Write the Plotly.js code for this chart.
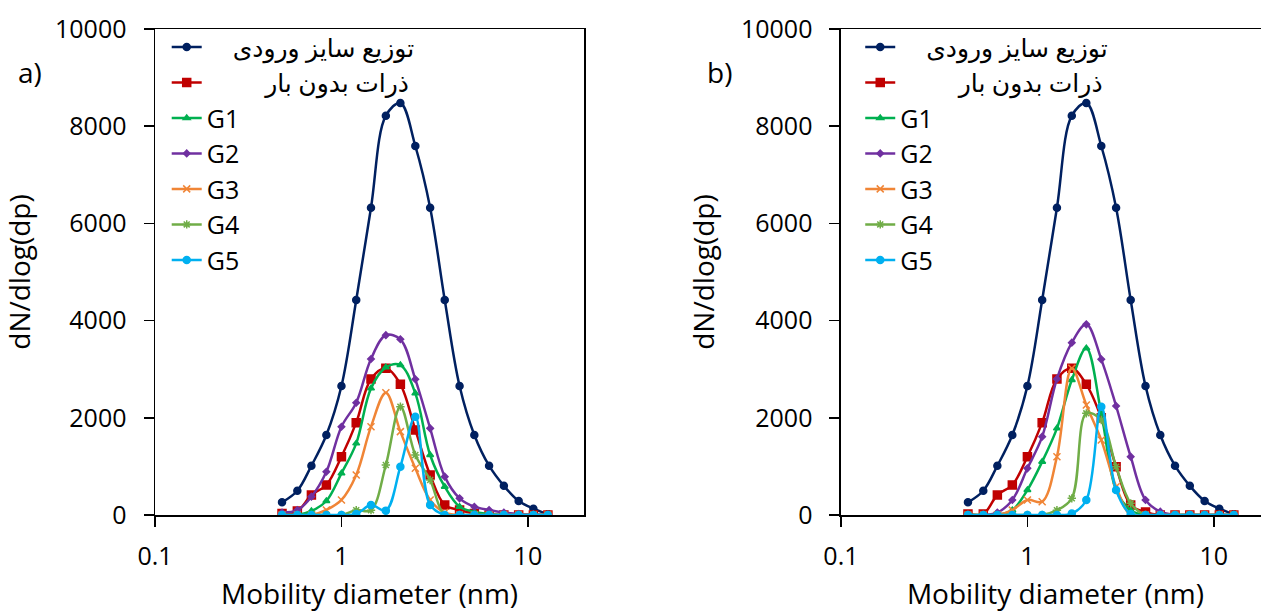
<!DOCTYPE html>
<html>
<head>
<meta charset="utf-8">
<script src="https://cdn.plot.ly/plotly-3.0.1.min.js"></script>
<style>
html,body{margin:0;padding:0;overflow:hidden;background:#fff;}
#chart{width:1280px;height:612px;}
</style>
</head>
<body>
<div id="chart"></div>
<script>
// Mobility diameter (nm)
const diameters = [0.48, 0.58, 0.69, 0.83, 1.0, 1.2, 1.44, 1.73, 2.07, 2.49, 2.99, 3.58, 4.3, 5.16, 6.19, 7.43, 8.92, 10.7, 12.8];

const seriesNames = ["توزیع سایز ورودی", "ذرات بدون بار", "G1", "G2", "G3", "G4", "G5"];

// Panel a)
const inletA   = [261, 500, 1014, 1646, 2654, 4424, 6323, 8216, 8477, 7593, 6323, 4424, 2654, 1646, 1014, 600, 290, 130, 15];
const unchargedA = [30, 80, 412, 617, 1200, 1900, 2798, 3018, 2689, 1750, 823, 206, 103, 30, 0, 0, 0, 0, 0];
const g1A = [0, 0, 82, 288, 857, 1474, 2606, 3038, 3086, 2503, 1235, 583, 171, 69, 20, 0, 0, 0, 0];
const g2A = [50, 100, 377, 891, 1817, 2311, 3210, 3700, 3615, 2792, 1783, 789, 343, 171, 103, 51, 20, 10, 0];
const g3A = [0, 0, 0, 103, 309, 823, 1817, 2517, 1715, 960, 309, 50, 0, 0, 0, 0, 0, 0, 0];
const g4A = [0, 0, 0, 0, 0, 100, 100, 1029, 2229, 1235, 720, 0, 0, 0, 0, 0, 0, 0, 0];
const g5A = [0, 0, 0, 0, 0, 20, 206, 90, 994, 2023, 206, 0, 0, 0, 0, 0, 0, 0, 0];

// Panel b)
const inletB   = [261, 500, 1014, 1646, 2654, 4424, 6323, 8216, 8477, 7593, 6323, 4424, 2654, 1646, 1014, 600, 290, 130, 15];
const unchargedB = [20, 20, 412, 617, 1200, 1900, 2798, 3018, 2689, 2000, 994, 206, 60, 0, 0, 0, 0, 0, 0];
const g1B = [0, 0, 0, 100, 514, 1097, 1783, 2778, 3430, 2092, 514, 100, 0, 0, 0, 0, 0, 0, 0];
const g2B = [0, 0, 50, 309, 960, 1612, 2800, 3546, 3923, 3203, 2243, 1200, 309, 69, 0, 0, 0, 0, 0];
const g3B = [0, 0, 0, 100, 309, 274, 1200, 3018, 2263, 1543, 583, 0, 0, 0, 0, 0, 0, 0, 0];
const g4B = [0, 0, 0, 0, 0, 0, 100, 343, 2092, 1955, 994, 240, 0, 0, 0, 0, 0, 0, 0];
const g5B = [0, 0, 0, 0, 0, 0, 0, 30, 309, 2229, 514, 20, 0, 0, 0, 0, 0, 0, 0];

const tickVals = [0.1, 1, 10];
const tickText = ["0.1", "1", "10"];

const styles = [
  {color: "#002060", symbol: "circle", size: 7},
  {color: "#C00000", symbol: "square", size: 8},
  {color: "#00B050", symbol: "triangle-up", size: 6},
  {color: "#7030A0", symbol: "diamond", size: 5},
  {color: "#F08536", symbol: "x-thin-open", size: 7},
  {color: "#70AD47", symbol: "asterisk-open", size: 7},
  {color: "#00B0F0", symbol: "circle", size: 7}
];

const panelA = [inletA, unchargedA, g1A, g2A, g3A, g4A, g5A];
const panelB = [inletB, unchargedB, g1B, g2B, g3B, g4B, g5B];

const NB = "\u00A0";
function label(k){
  const name = seriesNames[k];
  if (k === 0) return "\u200E" + NB.repeat(4) + name;
  if (k === 1) return "\u200E" + NB.repeat(9) + name;
  return name;
}

const traces = [];
function addPanel(series, xa, ya, legendId){
  series.forEach((vals, k) => {
    const st = styles[k];
    traces.push({
      x: diameters, y: vals, type: "scatter", mode: "lines+markers",
      name: label(k),
      xaxis: xa, yaxis: ya, legend: legendId,
      line: {color: st.color, width: 2.5, shape: "spline", smoothing: 1},
      marker: {color: st.color, symbol: st.symbol, size: st.size,
               line: {color: st.color, width: 1.5}}
    });
  });
}
addPanel(panelA, "x", "y", "legend");
addPanel(panelB, "x2", "y2", "legend2");

const fontFam = "'Open Sans', 'DejaVu Sans', sans-serif";
function xax(domain, anchor){
  return {
    type: "log", domain: domain, anchor: anchor,
    range: [-1, Math.log10(20)],
    tickvals: tickVals, ticktext: tickText,
    ticks: "outside", ticklen: 10, tickwidth: 1.5, tickcolor: "#000",
    ticklabelstandoff: 8,
    showline: true, linecolor: "#000", linewidth: 1.5, mirror: true,
    showgrid: false, zeroline: false,
    tickfont: {family: fontFam, size: 25, color: "#000"},
    title: {text: "Mobility diameter (nm)", font: {family: fontFam, size: 28, color: "#000"}, standoff: 19}
  };
}
function yax(anchor){
  return {
    anchor: anchor, range: [0, 10000], dtick: 2000, tickformat: "d",
    ticks: "outside", ticklen: 10, tickwidth: 1.5, tickcolor: "#000",
    ticklabelstandoff: 12,
    showline: true, linecolor: "#000", linewidth: 1.5, mirror: true,
    showgrid: false, zeroline: false,
    tickfont: {family: fontFam, size: 25, color: "#000"},
    title: {text: "dN/dlog(dp)", font: {family: fontFam, size: 28, color: "#000"}, standoff: 18}
  };
}
const legendBase = {
  yanchor: "top", y: 1.01, xanchor: "left",
  bgcolor: "rgba(0,0,0,0)", borderwidth: 0,
  font: {family: fontFam, size: 25, color: "#000"},
  tracegroupgap: 0, itemwidth: 30
};

const layout = {
  width: 1280, height: 612,
  margin: {l: 155, r: 10, t: 29, b: 97},
  paper_bgcolor: "#fff", plot_bgcolor: "#fff",
  showlegend: true,
  xaxis: xax([0, 0.3848], "y"),
  yaxis: yax("x"),
  xaxis2: xax([0.6152, 1], "y2"),
  yaxis2: yax("x2"),
  legend: Object.assign({}, legendBase, {x: 0.0105}),
  legend2: Object.assign({}, legendBase, {x: 0.6325}),
  annotations: [
    {text: "a)", xref: "paper", yref: "paper", x: -0.112, y: 0.9115, showarrow: false,
     xanchor: "center", yanchor: "middle", font: {family: fontFam, size: 28, color: "#000"}},
    {text: "b)", xref: "paper", yref: "paper", x: 0.5067, y: 0.9115, showarrow: false,
     xanchor: "center", yanchor: "middle", font: {family: fontFam, size: 28, color: "#000"}}
  ]
};

Plotly.newPlot("chart", traces, layout, {displayModeBar: false, staticPlot: true});
</script>
</body>
</html>
